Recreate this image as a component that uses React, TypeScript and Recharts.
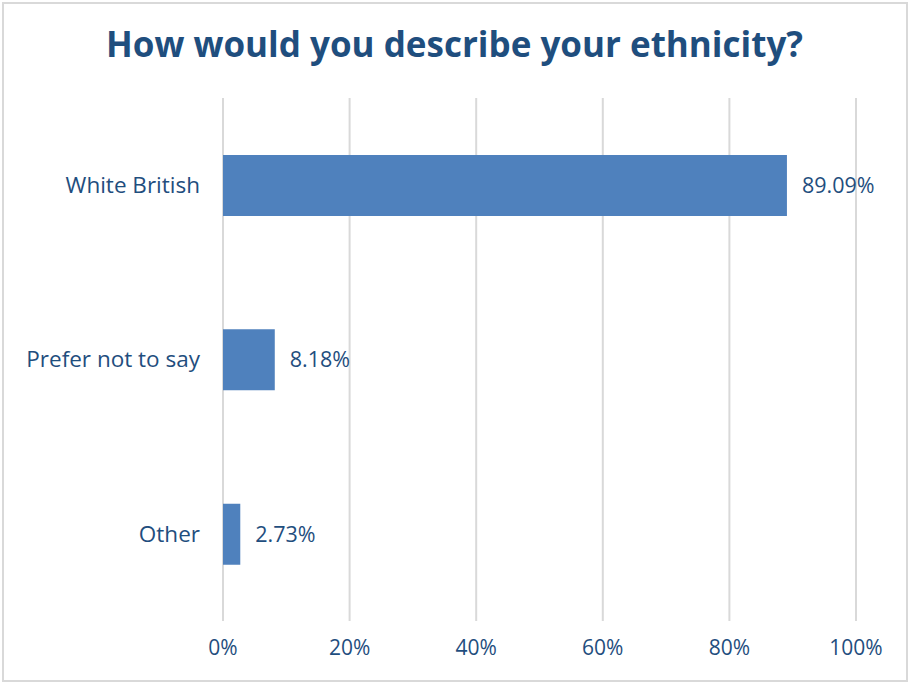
import { BarChart, Bar, XAxis, YAxis, CartesianGrid, LabelList } from "recharts";

const categories = ["White British", "Prefer not to say", "Other"];
const shares = [89.09, 8.18, 2.73];
const xTicks = [0, 20, 40, 60, 80, 100];

const textColor = "#1f4e7e";
const fontFamily = "'Open Sans', 'DejaVu Sans', sans-serif";

export default function App() {
  const data = categories.map((name, i) => ({ name, value: shares[i] }));

  return (
    <div
      style={{
        position: "absolute",
        left: 0,
        top: 0,
        width: 909,
        height: 682,
        background: "#fff",
        fontFamily,
      }}
    >
      <div
        style={{
          position: "absolute",
          left: 2,
          top: 2,
          width: 902,
          height: 676,
          border: "2px solid #d9d9d9",
        }}
      />
      <div
        style={{
          position: "absolute",
          left: 0,
          top: 20,
          width: 909,
          textAlign: "center",
          color: textColor,
          fontWeight: 700,
          fontSize: 35,
        }}
      >
        How would you describe your ethnicity?
      </div>
      <div style={{ position: "absolute", left: 0, top: 0 }}>
        <BarChart
          width={909}
          height={682}
          data={data}
          layout="vertical"
          margin={{ top: 98, right: 53, bottom: 21, left: 10 }}
        >
          <CartesianGrid horizontal={false} stroke="#d9d9d9" strokeWidth={2} />
          <XAxis
            type="number"
            domain={[0, 100]}
            ticks={xTicks}
            tickFormatter={(v) => `${v}%`}
            axisLine={false}
            tickLine={false}
            tickMargin={13}
            height={40}
            tick={{ fill: textColor, fontSize: 21, fontFamily }}
          />
          <YAxis
            type="category"
            dataKey="name"
            width={213}
            axisLine={false}
            tickLine={false}
            tickMargin={17}
            tick={{ fill: textColor, fontSize: 22.5, fontFamily }}
          />
          <Bar dataKey="value" fill="#4f81bd" barSize={61} isAnimationActive={false}>
            <LabelList
              dataKey="value"
              position="right"
              offset={15}
              formatter={(v: any) => `${Number(v).toFixed(2)}%`}
              style={{ fill: textColor, fontSize: 21.5, fontFamily }}
            />
          </Bar>
        </BarChart>
      </div>
    </div>
  );
}
